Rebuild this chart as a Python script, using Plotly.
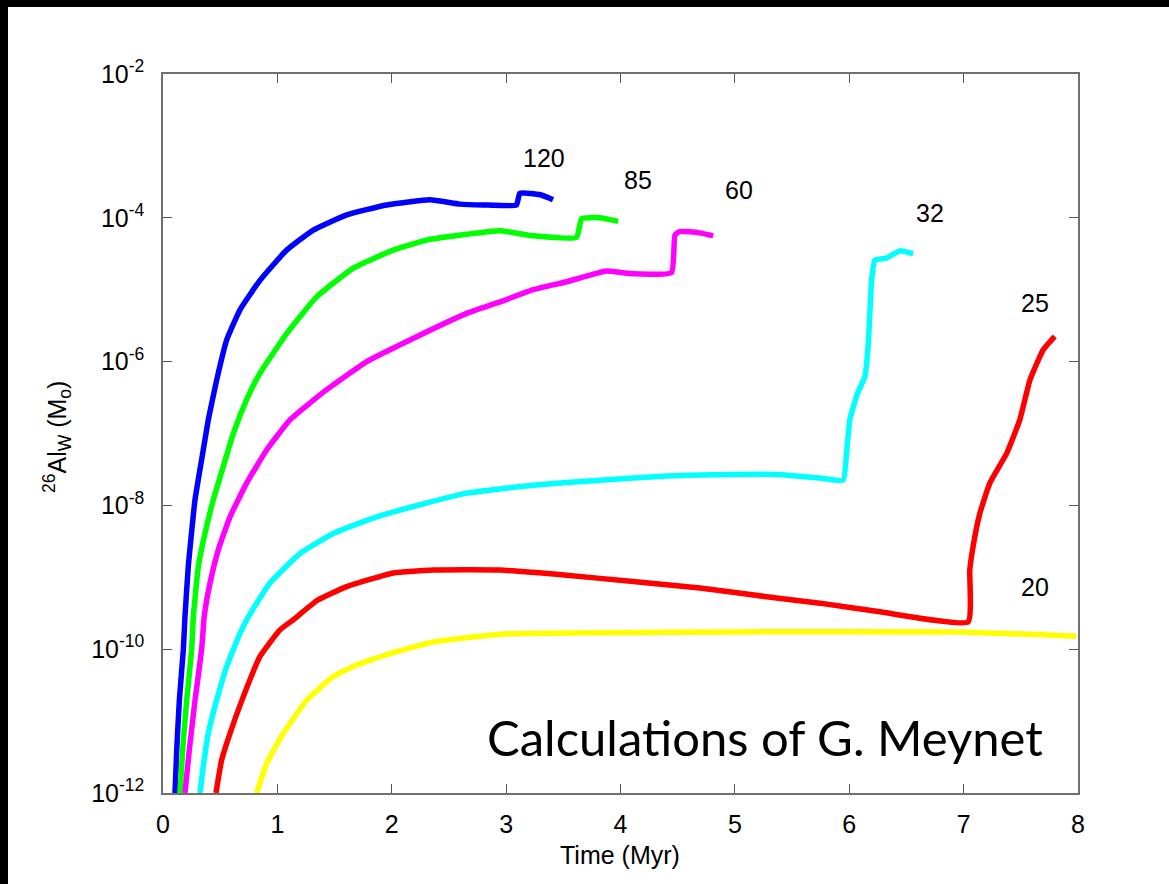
import math
import plotly.graph_objects as go

# ---- data (time in Myr, 26Al wind mass in solar masses) ----
t_120 = [0.105, 0.12, 0.143, 0.178, 0.192, 0.221, 0.280, 0.352, 0.396, 0.469, 0.557, 0.673, 0.848,
         1.081, 1.314, 1.606, 1.955, 2.334, 2.596, 2.80, 3.09, 3.12, 3.30, 3.41]
m_120 = [1e-12, 3.98e-12, 1.95e-11, 1e-10, 2.82e-10, 1.41e-9, 1.20e-8, 5.89e-8, 1.55e-7, 5.50e-7,
         2.0e-6, 5.25e-6, 1.35e-5, 3.55e-5, 6.76e-5, 1.10e-4, 1.51e-4, 1.78e-4, 1.55e-4, 1.51e-4,
         1.51e-4, 2.19e-4, 2.09e-4, 1.78e-4]

t_85 = [0.149, 0.172, 0.207, 0.251, 0.265, 0.309, 0.367, 0.44, 0.527, 0.615, 0.731, 0.848, 1.081,
        1.343, 1.664, 2.013, 2.305, 2.655, 2.946, 3.237, 3.616, 3.66, 3.82, 3.98]
m_85 = [1e-12, 3.98e-12, 1.95e-11, 1e-10, 2.82e-10, 1.41e-9, 4.07e-9, 1.20e-8, 3.47e-8, 1e-7,
        2.95e-7, 6.92e-7, 2.45e-6, 7.94e-6, 2.0e-5, 3.55e-5, 4.90e-5, 5.89e-5, 6.61e-5, 5.62e-5,
        5.37e-5, 9.77e-5, 1.0e-4, 8.91e-5]

t_60 = [0.192, 0.23, 0.28, 0.338, 0.36, 0.382, 0.411, 0.483, 0.586, 0.731, 0.906, 1.11, 1.431,
        1.781, 2.159, 2.655, 2.946, 3.237, 3.529, 3.878, 4.111, 4.446, 4.476, 4.52, 4.69, 4.81]
m_60 = [1e-12, 3.98e-12, 1.95e-11, 1e-10, 2.82e-10, 4.79e-10, 8.32e-10, 2.40e-9, 6.92e-9, 2.04e-8,
        5.89e-8, 1.55e-7, 4.07e-7, 1e-6, 2.0e-6, 4.68e-6, 6.76e-6, 1e-5, 1.29e-5, 1.82e-5, 1.66e-5,
        1.74e-5, 5.75e-5, 6.46e-5, 6.17e-5, 5.62e-5]

t_32 = [0.323, 0.352, 0.396, 0.469, 0.557, 0.673, 0.746, 0.935, 1.198, 1.489, 1.868, 2.247, 2.655,
        3.237, 3.82, 4.403, 4.985, 5.365, 5.743, 5.947, 5.976, 6.005, 6.07, 6.136, 6.165, 6.18,
        6.195, 6.224, 6.326, 6.442, 6.558]
m_32 = [1e-12, 2.34e-12, 6.76e-12, 1.95e-11, 5.75e-11, 1.66e-10, 2.82e-10, 8.32e-10, 2.14e-9,
        4.07e-9, 6.92e-9, 1.02e-8, 1.48e-8, 1.91e-8, 2.24e-8, 2.57e-8, 2.69e-8, 2.69e-8, 2.40e-8,
        2.24e-8, 5.25e-8, 1.55e-7, 3.55e-7, 6.17e-7, 1.62e-6, 4.68e-6, 1.35e-5, 2.57e-5, 2.75e-5,
        3.47e-5, 3.16e-5]

t_25 = [0.463, 0.513, 0.586, 0.702, 0.848, 1.023, 1.139, 1.35, 1.606, 2.013, 2.363, 2.946, 3.529,
        4.111, 4.694, 5.277, 5.743, 6.268, 7.04, 7.054, 7.083, 7.142, 7.229, 7.375, 7.491, 7.579,
        7.695, 7.797]
m_25 = [1e-12, 2.88e-12, 6.76e-12, 2.19e-11, 7.94e-11, 1.86e-10, 2.57e-10, 4.79e-10, 7.41e-10,
        1.15e-9, 1.26e-9, 1.26e-9, 1.07e-9, 8.71e-10, 7.08e-10, 5.37e-10, 4.37e-10, 3.31e-10,
        2.40e-10, 1.26e-9, 2.69e-9, 7.76e-9, 2.04e-8, 5.25e-8, 1.55e-7, 5.50e-7, 1.45e-6, 2.24e-6]

t_20 = [0.819, 0.906, 1.052, 1.256, 1.489, 1.693, 1.984, 2.363, 2.946, 3.82, 4.985, 6.967, 7.987]
m_20 = [1e-12, 2.57e-12, 6.76e-12, 1.95e-11, 4.17e-11, 6.03e-11, 8.71e-11, 1.26e-10, 1.62e-10,
        1.70e-10, 1.74e-10, 1.74e-10, 1.51e-10]

series_names = ["120", "85", "60", "32", "25", "20"]
series_t = [t_120, t_85, t_60, t_32, t_25, t_20]
series_m = [m_120, m_85, m_60, m_32, m_25, m_20]
series_colors = ["#0000ff", "#00ff00", "#ff00ff", "#00ffff", "#ff0000", "#ffff00"]

# curve label anchors (data coordinates)
label_t = [3.33, 4.15, 5.04, 6.71, 7.62, 7.62]
label_m = [6.8e-4, 3.4e-4, 2.45e-4, 1.17e-4, 6.6e-6, 7.4e-10]

x_ticks = [0, 1, 2, 3, 4, 5, 6, 7, 8]
y_ticks = [1e-12, 1e-10, 1e-8, 1e-6, 1e-4, 1e-2]
y_ticktext = ["10<sup>-12</sup>", "10<sup>-10</sup>", "10<sup>-8</sup>", "10<sup>-6</sup>",
              "10<sup>-4</sup>", "10<sup>-2</sup>"]

W, H = 1169, 884
L, R, T, B = 163, 91, 74, 91
FONT = "Liberation Sans, Arial, sans-serif"

fig = go.Figure()
for name, t, m, c in zip(series_names, series_t, series_m, series_colors):
    fig.add_trace(go.Scatter(x=t, y=m, mode="lines", name=name,
                             line=dict(color=c, width=5.5, shape="spline", smoothing=0.4),
                             showlegend=False))

for name, lt, lm in zip(series_names, label_t, label_m):
    # annotations on a log axis are positioned in log10 units
    fig.add_annotation(x=lt, y=math.log10(lm), yref="y", xref="x", text=name, showarrow=False,
                       xanchor="center", yanchor="middle",
                       font=dict(family=FONT, size=25, color="black"))


def px_x(p):
    return (p - L) / (W - L - R)


def px_y(p):
    return (H - B - p) / (H - T - B)


# black frame strips (top and left) of the slide
fig.add_shape(type="rect", xref="paper", yref="paper", x0=px_x(-5), x1=px_x(W + 5),
              y0=px_y(7), y1=px_y(-5), fillcolor="black", line=dict(width=0), layer="below")
fig.add_shape(type="rect", xref="paper", yref="paper", x0=px_x(-5), x1=px_x(8),
              y0=px_y(H + 5), y1=px_y(-5), fillcolor="black", line=dict(width=0), layer="below")

fig.add_annotation(xref="paper", yref="paper", x=px_x(765), y=px_y(737),
                   xanchor="center", yanchor="middle",
                   text="Calculations of G. Meynet", showarrow=False,
                   font=dict(family="Lato, Open Sans, sans-serif", size=49, color="black"))

fig.add_annotation(xref="paper", yref="paper", x=px_x(620), y=px_y(855),
                   xanchor="center", yanchor="middle",
                   text="Time (Myr)", showarrow=False,
                   font=dict(family=FONT, size=25, color="black"))

fig.add_annotation(xref="paper", yref="paper", x=px_x(57), y=px_y(437), textangle=-90,
                   xanchor="center", yanchor="middle",
                   text="<sup>26</sup>Al<sub>W</sub> (M<sub>o</sub>)", showarrow=False,
                   font=dict(family=FONT, size=25, color="black"))

axis_common = dict(showgrid=False, zeroline=False, showline=True, linecolor="#707070",
                   linewidth=1.5, mirror="ticks", ticks="inside", ticklen=9,
                   tickcolor="#555555", tickwidth=1.3,
                   tickfont=dict(family=FONT, size=25, color="black"))

fig.update_xaxes(range=[0, 8], tickvals=x_ticks, ticktext=[str(v) for v in x_ticks],
                 ticklabelstandoff=8, **axis_common)
fig.update_yaxes(type="log", range=[-12, -2], tickvals=y_ticks, ticktext=y_ticktext,
                 ticklabelstandoff=12, **axis_common)

fig.update_layout(width=W, height=H, margin=dict(l=L, r=R, t=T, b=B, autoexpand=False),
                  paper_bgcolor="white", plot_bgcolor="rgba(0,0,0,0)")

fig.write_html("out.html")
